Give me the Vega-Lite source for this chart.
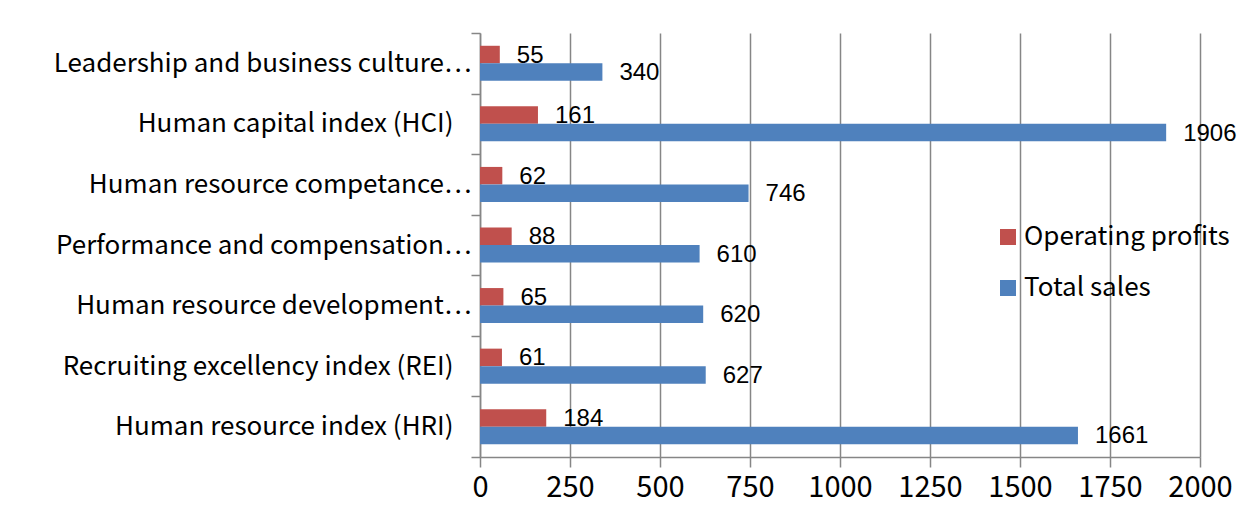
{
  "$schema": "https://vega.github.io/schema/vega-lite/v6.json",
  "autosize": "none",
  "width": 720,
  "height": 424,
  "padding": {"left": 480, "top": 33, "right": 52, "bottom": 52},
  "background": "white",
  "data": {
    "values": [
      {"index": "Leadership and business culture…", "series": "Operating profits", "value": 55},
      {"index": "Leadership and business culture…", "series": "Total sales", "value": 340},
      {"index": "Human capital index (HCI)", "series": "Operating profits", "value": 161},
      {"index": "Human capital index (HCI)", "series": "Total sales", "value": 1906},
      {"index": "Human resource competance…", "series": "Operating profits", "value": 62},
      {"index": "Human resource competance…", "series": "Total sales", "value": 746},
      {"index": "Performance and compensation…", "series": "Operating profits", "value": 88},
      {"index": "Performance and compensation…", "series": "Total sales", "value": 610},
      {"index": "Human resource development…", "series": "Operating profits", "value": 65},
      {"index": "Human resource development…", "series": "Total sales", "value": 620},
      {"index": "Recruiting excellency index (REI)", "series": "Operating profits", "value": 61},
      {"index": "Recruiting excellency index (REI)", "series": "Total sales", "value": 627},
      {"index": "Human resource index (HRI)", "series": "Operating profits", "value": 184},
      {"index": "Human resource index (HRI)", "series": "Total sales", "value": 1661}
    ]
  },
  "encoding": {
    "y": {
      "field": "index",
      "type": "nominal",
      "sort": null,
      "title": null,
      "scale": {"paddingInner": 0, "paddingOuter": 0},
      "axis": {
        "tickBand": "extent",
        "tickSize": 9,
        "tickColor": "#868686",
        "tickWidth": 1.5,
        "domainColor": "#868686",
        "domainWidth": 1.5,
        "grid": false,
        "labelFont": "Noto Sans CJK KR",
        "labelFontSize": 26,
        "labelColor": "#000000",
        "labelLimit": 0,
        "labelPadding": {"condition": {"test": "indexof(datum.label, '…') >= 0", "value": 0}, "value": 18}
      }
    },
    "yOffset": {
      "field": "series",
      "type": "nominal",
      "scale": {"paddingOuter": 0.73, "paddingInner": 0}
    },
    "x": {
      "field": "value",
      "type": "quantitative",
      "title": null,
      "scale": {"domain": [0, 2000], "nice": false},
      "axis": {
        "values": [0, 250, 500, 750, 1000, 1250, 1500, 1750, 2000],
        "format": "d",
        "grid": true,
        "gridColor": "#868686",
        "gridWidth": 1.5,
        "tickSize": 10,
        "tickColor": "#868686",
        "tickWidth": 1.5,
        "domainColor": "#868686",
        "domainWidth": 1.5,
        "labelFont": "Noto Sans CJK KR",
        "labelFontSize": 29,
        "labelColor": "#000000",
        "labelPadding": 6,
        "labelFlush": false
      }
    }
  },
  "layer": [
    {
      "mark": {"type": "bar"},
      "encoding": {
        "color": {
          "field": "series",
          "type": "nominal",
          "scale": {"domain": ["Operating profits", "Total sales"], "range": ["#C0504D", "#4F81BD"]},
          "legend": {
            "title": null,
            "orient": "none",
            "legendX": 515,
            "legendY": 191,
            "padding": 0,
            "symbolType": "square",
            "symbolSize": 256,
            "symbolStrokeWidth": 0,
            "labelFont": "Noto Sans CJK KR",
            "labelFontSize": 26,
            "labelColor": "#000000",
            "labelOffset": 3,
            "rowPadding": 25,
            "labelLimit": 0
          }
        }
      }
    },
    {
      "mark": {
        "type": "text",
        "align": "left",
        "baseline": "middle",
        "dx": 17,
        "dy": 1,
        "font": "Liberation Sans",
        "fontSize": 24,
        "color": "#000000"
      },
      "encoding": {
        "text": {"field": "value", "type": "quantitative"}
      }
    }
  ],
  "config": {
    "view": {"stroke": null}
  }
}
